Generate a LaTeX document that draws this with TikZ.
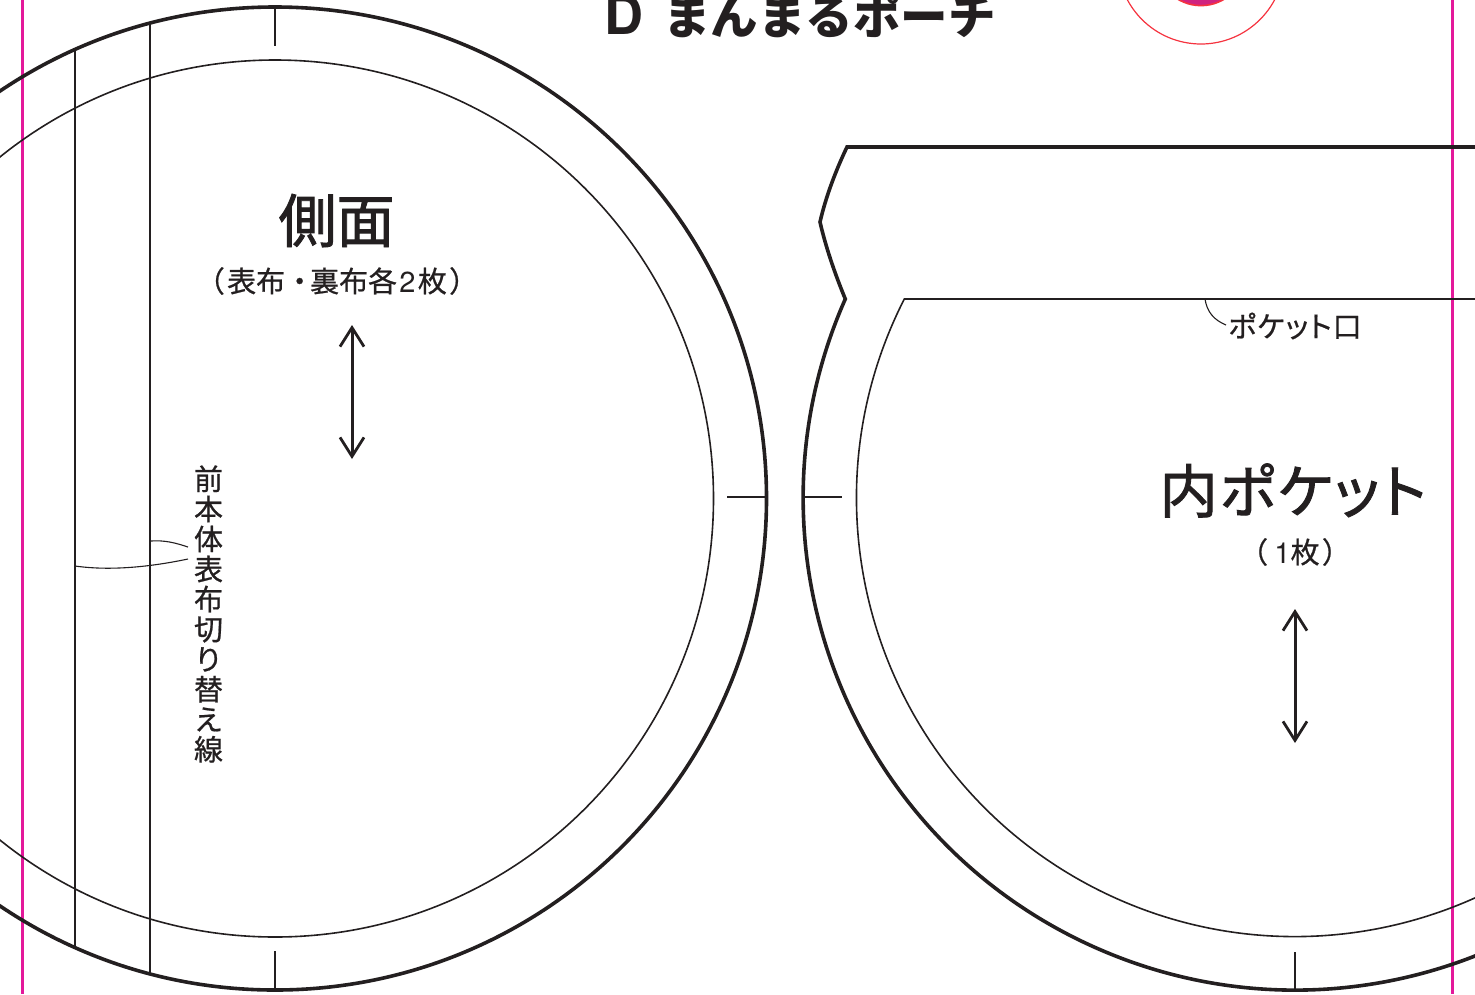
\documentclass[tikz,border=0pt]{standalone}
\usepackage{fontspec}
\setmainfont{Noto Sans CJK JP}
\newfontfamily\bigfont[FakeBold=1.5]{Noto Sans CJK JP}
\newfontfamily\bigpalt[FakeBold=1.5,RawFeature=+palt,LetterSpace=3.5]{Noto Sans CJK JP}
\newfontfamily\smallfont[FakeBold=0.7]{Noto Sans CJK JP}
\newfontfamily\smallpalt[FakeBold=0.7,RawFeature=+palt,LetterSpace=3.5]{Noto Sans CJK JP}
\newfontfamily\latinfont{TeX Gyre Heros}
\usetikzlibrary{arrows.meta}
\definecolor{ink}{HTML}{231F20}
\definecolor{trim}{HTML}{E3189A}
\definecolor{reg}{HTML}{F5333F}
\definecolor{regfill}{HTML}{D0237F}
\tikzset{
  cut/.style={draw=ink,line width=3.6pt,line join=miter},
  sew/.style={draw=ink,line width=1.6pt},
  tick/.style={draw=ink,line width=1.6pt},
  leader/.style={draw=ink,line width=1.1pt},
  grain/.style={draw=ink,line width=3pt,{Straight Barb[length=19pt,width=24pt,line width=2.8pt]}-{Straight Barb[length=19pt,width=24pt,line width=2.8pt]}},
  trimline/.style={draw=trim,line width=2.6pt},
  big/.style={text=ink,inner sep=0pt,font=\fontsize{58}{64}\bigfont},
  small/.style={text=ink,inner sep=0pt,font=\fontsize{29}{30}\smallfont},
}
\begin{document}
\begin{tikzpicture}[x=1pt,y=-1pt]
\useasboundingbox (0,0) rectangle (1475,994);
\clip (0,0) rectangle (1475,994);
% trim lines
\coordinate (tl1) at (22.7,0); \coordinate (tl2) at (22.7,994);
\coordinate (tr1) at (1452.3,0); \coordinate (tr2) at (1452.3,994);
\draw[trimline] (tl1) -- (tl2);
\draw[trimline] (tr1) -- (tr2);
% registration mark
\coordinate (regc) at (1201,-39.4);
\draw[reg,line width=1.2pt] (regc) circle[radius=83.4pt];
\fill[fill=regfill,draw=reg,line width=1.6pt] (regc) circle[radius=45pt];
% left circle
\coordinate (lc) at (275,498.5);
\draw[cut] (lc) circle[radius=491.5pt];
\draw[sew] (lc) circle[radius=438.5pt];
\coordinate (a1) at (74.8,49.5); \coordinate (a2) at (74.8,947.5);
\coordinate (b1) at (150.2,23); \coordinate (b2) at (150.2,974);
\draw[sew] (a1) -- (a2);
\draw[sew] (b1) -- (b2);
\coordinate (t1) at (275,7); \coordinate (t2) at (275,46);
\coordinate (t3) at (275,951); \coordinate (t4) at (275,990);
\coordinate (t5) at (727,497); \coordinate (t6) at (766,497);
\draw[tick] (t1) -- (t2);
\draw[tick] (t3) -- (t4);
\draw[tick] (t5) -- (t6);
% right piece
\draw[cut] (1500,147) -- (847,147) .. controls (836,170) and (826,196) .. (820,222) .. controls (826,248) and (835,274) .. (845.3,299) arc[start angle=156.14,end angle=375,radius=492pt];
\draw[sew] (1500,299) -- (904.3,299) arc[start angle=153.01,end angle=375,radius=438.5pt];
\coordinate (u1) at (803,497); \coordinate (u2) at (842,497);
\coordinate (u3) at (1295,952); \coordinate (u4) at (1295,990);
\draw[tick] (u1) -- (u2);
\draw[tick] (u3) -- (u4);
% grain arrows
\coordinate (g1) at (352,325); \coordinate (g2) at (352,459);
\coordinate (g3) at (1295,609); \coordinate (g4) at (1295,743);
\draw[grain] (g1) -- (g2);
\draw[grain] (g3) -- (g4);
% labels
\node[text=ink,inner sep=0pt,anchor=base west,font=\fontsize{47.5}{50}\selectfont\bfseries] (title) at (604,34) {{\latinfont\fontsize{54}{54}\selectfont\bfseries D}\hspace{0.42em}まんまるポーチ};
\node[big] (side) at (336.5,220.5) {側面};
\node[small] (sidesub) at (337,281) {（\hspace{0.08em}表布・\hspace{-0.14em}裏布各\hspace{0.08em}{\latinfont 2}\hspace{0.08em}枚\hspace{0.08em}）};
\node[big,font=\fontsize{58}{64}\bigpalt] (pocket) at (1293,490.5) {内ポケット};
\node[small] (pocketsub) at (1295,552) {（\hspace{0.22em}{\latinfont 1}枚\hspace{0.08em}）};
\node[small,font=\fontsize{29}{30}\smallpalt] (mouth) at (1295,326) {ポケット口};
\node[text=ink,inner sep=0pt,align=center,font=\fontsize{29}{30.05}\smallfont] (vert) at (208.5,614) {前\\本\\体\\表\\布\\切\\り\\替\\え\\線};
% leaders
\coordinate (m0) at (1205,299);
\coordinate (l0) at (151,541);
\coordinate (l1) at (188,547);
\coordinate (l2) at (75,566);
\coordinate (l3) at (188,559);
\draw[leader] (m0) .. controls (1207,312) and (1214,320) .. (1226,325);
\draw[leader] (l0) .. controls (165,540) and (176,543) .. (l1);
\draw[leader] (l2) .. controls (110,571) and (150,567) .. (l3);
\end{tikzpicture}
\end{document}
